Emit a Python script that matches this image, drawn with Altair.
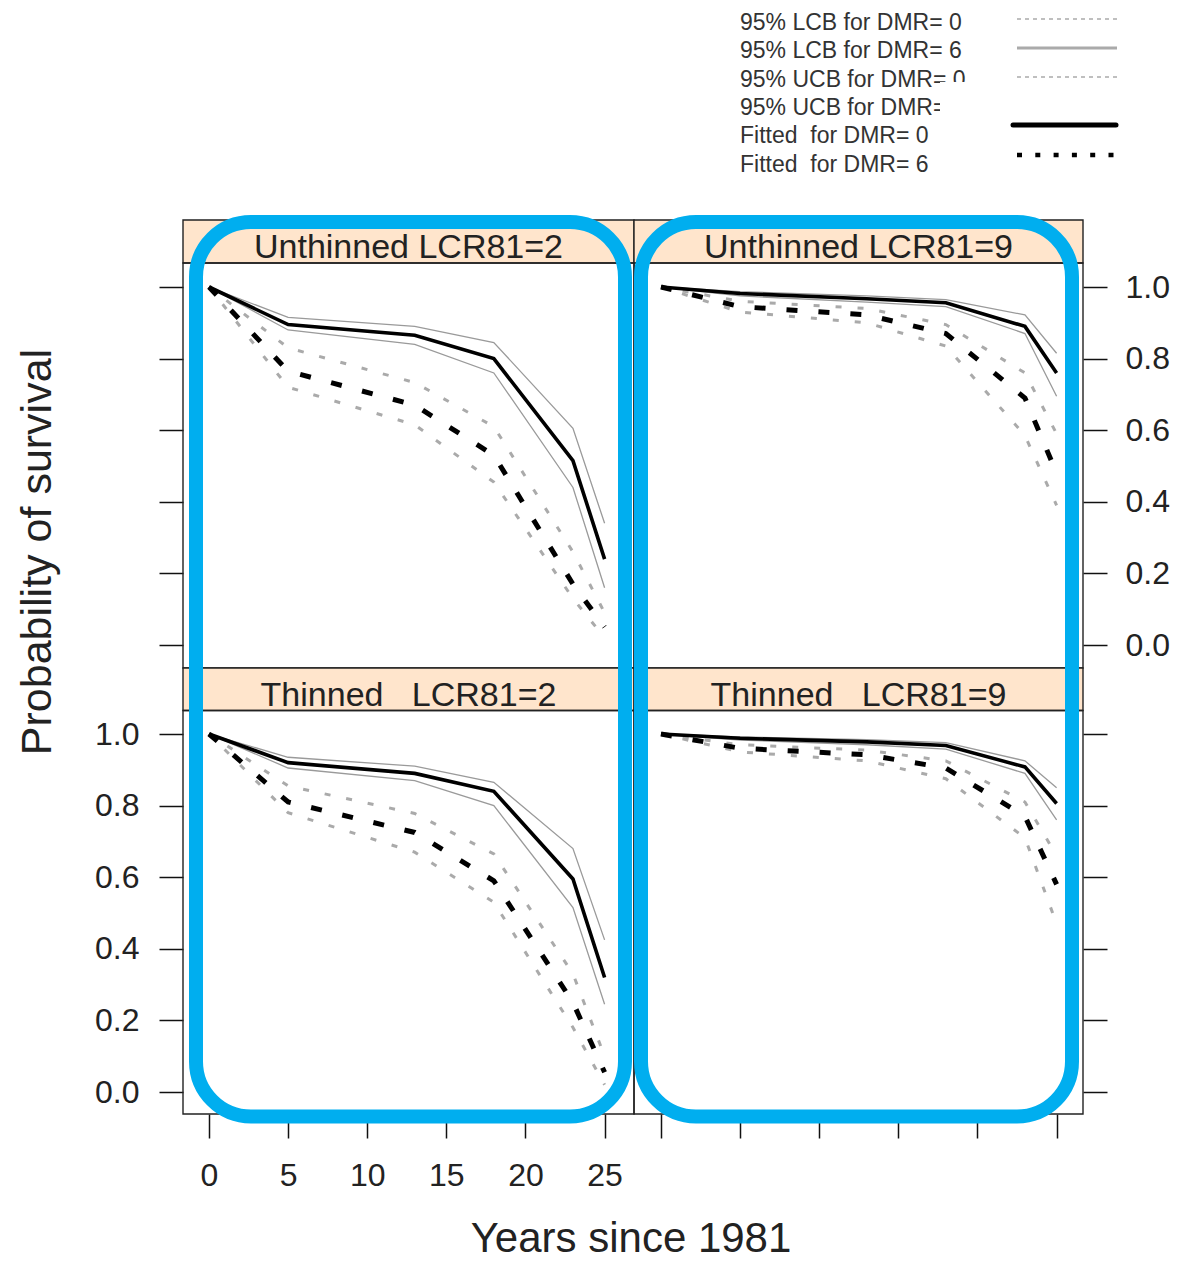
import altair as alt
import pandas as pd

# ---------------- data ----------------
years = [0, 5, 13, 18, 23, 25]

panel_titles = [
    "Unthinned LCR81=2",
    "Unthinned LCR81=9",
    "Thinned\u00a0\u00a0\u00a0LCR81=2",
    "Thinned\u00a0\u00a0\u00a0LCR81=9",
]

series_names = ["lcb0", "ucb0", "lcb6", "ucb6", "fit0", "fit6"]

ul2_fit0 = [1.0, 0.895, 0.865, 0.80, 0.515, 0.24]
ul2_lcb0 = [1.0, 0.88, 0.84, 0.76, 0.44, 0.16]
ul2_ucb0 = [1.0, 0.915, 0.89, 0.845, 0.605, 0.34]
ul2_fit6 = [1.0, 0.765, 0.67, 0.53, 0.17, 0.05]
ul2_lcb6 = [1.0, 0.72, 0.615, 0.455, 0.13, 0.02]
ul2_ucb6 = [1.0, 0.83, 0.733, 0.61, 0.26, 0.09]

ul9_fit0 = [1.0, 0.982, 0.967, 0.956, 0.89, 0.76]
ul9_lcb0 = [1.0, 0.975, 0.958, 0.945, 0.87, 0.695]
ul9_ucb0 = [1.0, 0.987, 0.975, 0.965, 0.922, 0.815]
ul9_fit6 = [1.0, 0.945, 0.922, 0.87, 0.69, 0.48]
ul9_lcb6 = [1.0, 0.93, 0.90, 0.835, 0.585, 0.39]
ul9_ucb6 = [1.0, 0.96, 0.94, 0.895, 0.76, 0.59]

t2_fit0 = [1.0, 0.92, 0.89, 0.84, 0.595, 0.32]
t2_lcb0 = [1.0, 0.905, 0.87, 0.80, 0.515, 0.245]
t2_ucb0 = [1.0, 0.935, 0.91, 0.865, 0.68, 0.425]
t2_fit6 = [1.0, 0.81, 0.725, 0.59, 0.25, 0.055]
t2_lcb6 = [1.0, 0.78, 0.67, 0.53, 0.18, 0.02]
t2_ucb6 = [1.0, 0.855, 0.778, 0.665, 0.33, 0.10]

t9_fit0 = [1.0, 0.988, 0.978, 0.968, 0.908, 0.806]
t9_lcb0 = [1.0, 0.983, 0.97, 0.958, 0.89, 0.76]
t9_ucb0 = [1.0, 0.992, 0.984, 0.976, 0.925, 0.85]
t9_fit6 = [1.0, 0.96, 0.942, 0.905, 0.77, 0.58]
t9_lcb6 = [1.0, 0.95, 0.925, 0.875, 0.71, 0.47]
t9_ucb6 = [1.0, 0.97, 0.955, 0.925, 0.81, 0.66]

panel_series = [
    {"lcb0": ul2_lcb0, "ucb0": ul2_ucb0, "lcb6": ul2_lcb6, "ucb6": ul2_ucb6, "fit0": ul2_fit0, "fit6": ul2_fit6},
    {"lcb0": ul9_lcb0, "ucb0": ul9_ucb0, "lcb6": ul9_lcb6, "ucb6": ul9_ucb6, "fit0": ul9_fit0, "fit6": ul9_fit6},
    {"lcb0": t2_lcb0, "ucb0": t2_ucb0, "lcb6": t2_lcb6, "ucb6": t2_ucb6, "fit0": t2_fit0, "fit6": t2_fit6},
    {"lcb0": t9_lcb0, "ucb0": t9_ucb0, "lcb6": t9_lcb6, "ucb6": t9_ucb6, "fit0": t9_fit0, "fit6": t9_fit6},
]

legend_labels = [
    "95% LCB for DMR= 0",
    "95% LCB for DMR= 6",
    "95% UCB for DMR= 0",
    "95% UCB for DMR= 6",
    "Fitted\u00a0\u00a0for DMR= 0",
    "Fitted\u00a0\u00a0for DMR= 6",
]

x_ticks = [0, 5, 10, 15, 20, 25]
y_ticks = [0.0, 0.2, 0.4, 0.6, 0.8, 1.0]

# ---------------- layout (page pixels) ----------------
W, H = 1162, 1253
M = 8  # page margin


def c(v):
    return v - M


FONT = "Liberation Sans"
TXT = "#222222"

col_x = [(183, 634), (634, 1083)]
col_scale = [(209, 604.6), (661, 1056.6)]
row_strip = [(220, 263), (668, 710.5)]
row_body = [(263, 668), (710.5, 1114)]
row_scale = [(645, 287), (1092, 734)]

styles = [
    ("cb0", ["lcb0", "ucb0"], "#9a9a9a", 1.3, None),
    ("cb6", ["lcb6", "ucb6"], "#aaaaaa", 3.0, [6, 16]),
    ("fit0", ["fit0"], "#000000", 3.6, None),
    ("fit6", ["fit6"], "#000000", 5.0, [11, 21]),
]

one = pd.DataFrame({"k": [0]})
layers = []

# strips and panel frames
for r in range(2):
    for col in range(2):
        x0, x1 = col_x[col]
        s0, s1 = row_strip[r]
        b0, b1 = row_body[r]
        layers.append(
            alt.Chart(one).mark_rect(fill="#FFE5CC", stroke="#222222", strokeWidth=1.4).encode(
                x=alt.value(c(x0)), x2=alt.value(c(x1)), y=alt.value(c(s0)), y2=alt.value(c(s1))
            )
        )
        layers.append(
            alt.Chart(one).mark_rect(filled=False, stroke="#222222", strokeWidth=1.4).encode(
                x=alt.value(c(x0)), x2=alt.value(c(x1)), y=alt.value(c(b0)), y2=alt.value(c(b1))
            )
        )
        idx = r * 2 + col
        layers.append(
            alt.Chart(one).mark_text(font=FONT, fontSize=34, color=TXT, align="center", baseline="middle").encode(
                x=alt.value(c((x0 + x1) / 2)),
                y=alt.value(c(247.5 + (row_strip[r][0] - 220))),
                text=alt.value(panel_titles[idx]),
            )
        )


def axis_x(show_labels):
    return alt.Axis(
        orient="bottom", offset=c(1114) - H, values=x_ticks, format="d", labels=show_labels,
        tickSize=24, tickWidth=1.5, tickColor="#111111", domain=False, grid=False, title=None,
        labelFont=FONT, labelFontSize=32, labelColor=TXT, labelPadding=22,
        labelFlush=False, labelOverlap=False,
    )


def axis_y(side, show_labels, pad):
    off = -c(183) if side == "left" else c(1083) - W
    return alt.Axis(
        orient=side, offset=off, values=y_ticks, format=".1f", labels=show_labels,
        tickSize=24, tickWidth=1.5, tickColor="#111111", domain=False, grid=False, title=None,
        labelFont=FONT, labelFontSize=32, labelColor=TXT, labelPadding=pad,
        labelFlush=False, labelOverlap=False,
    )


# data lines
for idx in range(4):
    r, col = divmod(idx, 2)
    sx0, sx1 = col_scale[col]
    sy0, sy1 = row_scale[r]
    if r == 1:
        xax = axis_x(col == 0)
    else:
        xax = None
    if col == 0:
        yax = axis_y("left", r == 1, 20)
    else:
        yax = axis_y("right", r == 0, 18)
    for k, (gname, names, colr, wd, dash) in enumerate(styles):
        rows = []
        for nm in names:
            for yr, p in zip(years, panel_series[idx][nm]):
                rows.append({"year": yr, "p": p, "series": nm})
        df = pd.DataFrame(rows)
        mk = dict(color=colr, strokeWidth=wd)
        if dash:
            mk["strokeDash"] = dash
        first = k == 0
        layers.append(
            alt.Chart(df).mark_line(**mk).encode(
                x=alt.X("year:Q", scale=alt.Scale(domain=[0, 25], range=[c(sx0), c(sx1)], nice=False, zero=False),
                        axis=xax if (first and xax is not None) else None),
                y=alt.Y("p:Q", scale=alt.Scale(domain=[0, 1], range=[c(sy0), c(sy1)], nice=False, zero=False),
                        axis=yax if first else None),
                detail="series:N",
                order="year:Q",
            )
        )

# axis titles
layers.append(
    alt.Chart(one).mark_text(font=FONT, fontSize=42, color=TXT, align="center", baseline="middle").encode(
        x=alt.value(c(631)), y=alt.value(c(1239)), text=alt.value("Years since 1981")
    )
)
layers.append(
    alt.Chart(one).mark_text(font=FONT, fontSize=43, color=TXT, align="center", baseline="middle", angle=270).encode(
        x=alt.value(c(38)), y=alt.value(c(552)), text=alt.value("Probability of survival")
    )
)

# legend
leg_text_y = [23, 51.3, 79.6, 108, 136.3, 164.8]
leg_line_y = [19, 48, 77, 106, 125, 155]
leg_styles = [
    dict(color="#aaaaaa", strokeWidth=1.3, strokeDash=[4, 4]),
    dict(color="#aaaaaa", strokeWidth=3.0),
    dict(color="#aaaaaa", strokeWidth=1.3, strokeDash=[4, 4]),
    dict(color="#aaaaaa", strokeWidth=3.0),
    dict(color="#000000", strokeWidth=5.0, strokeCap="round"),
    dict(color="#000000", strokeWidth=4.5, strokeDash=[5, 13.3]),
]
for i, lab in enumerate(legend_labels):
    layers.append(
        alt.Chart(one).mark_text(font=FONT, fontSize=23, color="#333333", align="left", baseline="middle").encode(
            x=alt.value(c(740)), y=alt.value(c(leg_text_y[i])), text=alt.value(lab)
        )
    )
for i in range(4):
    layers.append(
        alt.Chart(one).mark_rule(**leg_styles[i]).encode(
            x=alt.value(c(1017)), x2=alt.value(c(1117)), y=alt.value(c(leg_line_y[i]))
        )
    )
# white patch over part of the legend (as in the picture)
layers.append(
    alt.Chart(one).mark_rect(fill="white").encode(
        x=alt.value(c(940)), x2=alt.value(c(1178)), y=alt.value(c(82)), y2=alt.value(c(117))
    )
)
layers.append(
    alt.Chart(one).mark_rule(**leg_styles[4]).encode(
        x=alt.value(c(1013)), x2=alt.value(c(1116)), y=alt.value(c(leg_line_y[4]))
    )
)
layers.append(
    alt.Chart(one).mark_rule(**leg_styles[5]).encode(
        x=alt.value(c(1017)), x2=alt.value(c(1117)), y=alt.value(c(leg_line_y[5]))
    )
)

# blue rounded highlight boxes
for bx0, bx1 in [(196, 625), (641, 1072)]:
    layers.append(
        alt.Chart(one).mark_rect(filled=False, stroke="#00AEEF", strokeWidth=14, cornerRadius=55).encode(
            x=alt.value(c(bx0)), x2=alt.value(c(bx1)), y=alt.value(c(222)), y2=alt.value(c(1116.5))
        )
    )

chart = (
    alt.layer(*layers)
    .resolve_scale(x="independent", y="independent")
    .resolve_axis(x="independent", y="independent")
    .properties(width=W, height=H, autosize=alt.AutoSizeParams(type="none"), padding=0)
    .configure(background="white")
    .configure_view(strokeWidth=0, stroke=None)
)

chart.save("out.html", embed_options={"renderer": "svg", "actions": False})
